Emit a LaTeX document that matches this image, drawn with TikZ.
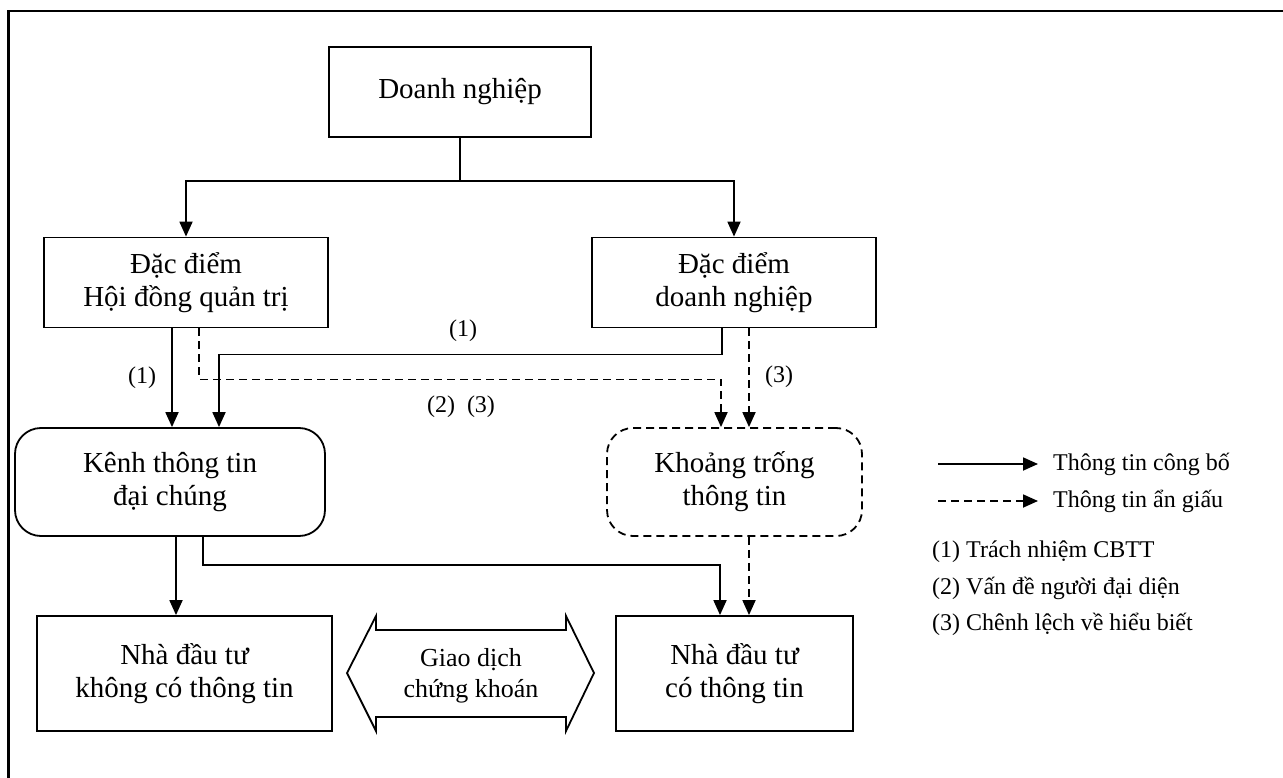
\documentclass[tikz,border=0pt]{standalone}
\usepackage{fontspec}
\setmainfont{Liberation Serif}
\usetikzlibrary{arrows.meta}
\begin{document}
\begin{tikzpicture}[x=1pt,y=-1pt,
  box/.style={draw,line width=1.8pt,rectangle,inner sep=0pt,align=center,font=\fontsize{29}{33}\selectfont},
  rbox/.style={box,rounded corners=26pt},
  dbox/.style={box,rounded corners=26pt,dash pattern=on 8pt off 5pt},
  con/.style={line width=1.8pt},
  arr/.style={con,-{Triangle[length=15pt,width=13pt]}},
  dsh/.style={con,dash pattern=on 8pt off 5pt},
  darr/.style={arr,dash pattern=on 8pt off 5pt},
  lbl/.style={font=\fontsize{24}{28}\selectfont,inner sep=0pt},
  leg/.style={font=\fontsize{24}{28}\selectfont,inner sep=0pt,anchor=west}]
\useasboundingbox (0,0) rectangle (1283,778);
\draw[line width=2.8pt] (8.5,778) -- (8.5,11) -- (1283,11);

\node[box,minimum width=262pt,minimum height=90pt] (dn) at (460,92) {Doanh nghiệp};
\node[box,minimum width=284pt,minimum height=90pt] (hdqt) at (186,282.5) {Đặc điểm\\Hội đồng quản trị};
\node[box,minimum width=284pt,minimum height=90pt] (dndn) at (734,282.5) {Đặc điểm\\doanh nghiệp};
\node[rbox,minimum width=310pt,minimum height=108pt] (kenh) at (170,482) {Kênh thông tin\\đại chúng};
\node[dbox,minimum width=255pt,minimum height=108pt] (kt) at (734.5,482) {Khoảng trống\\thông tin};
\node[box,minimum width=295pt,minimum height=115pt] (ndt1) at (184.5,673.5) {Nhà đầu tư\\không có thông tin};
\node[box,minimum width=237pt,minimum height=115pt] (ndt2) at (734.5,673.5) {Nhà đầu tư\\có thông tin};

\draw[con] (347,673) -- (376,616) -- (376,630) -- (566,630) -- (566,616) -- (594,673)
  -- (566,731) -- (566,717) -- (376,717) -- (376,731) -- cycle;
\node[align=center,inner sep=0pt,font=\fontsize{26}{31}\selectfont] (gd) at (471,676) {Giao dịch\\chứng khoán};

\draw[arr] (dn.south) -- ++(0,43) -| (hdqt.north);
\draw[arr] (dn.south) -- ++(0,43) -| (dndn.north);

\draw[arr] ([xshift=-14pt]hdqt.south) -- ([xshift=2pt]kenh.north);
\draw[arr] ([xshift=-12pt]dndn.south) -- ++(0,26) -| ([xshift=49pt]kenh.north);
\draw[darr] ([xshift=13pt]hdqt.south) -- ++(0,51) -| ([xshift=-13.5pt]kt.north);
\draw[darr] ([xshift=15pt]dndn.south) -- ([xshift=14.5pt]kt.north);

\draw[arr] ([xshift=6pt]kenh.south) -- ([xshift=-8.5pt]ndt1.north);
\draw[arr] ([xshift=33pt]kenh.south) -- ++(0,28) -| ([xshift=-14.5pt]ndt2.north);
\draw[darr] ([xshift=14.5pt]kt.south) -- ([xshift=14.5pt]ndt2.north);

\node[lbl] (l1) at (142,378) {(1)};
\node[lbl] (l2) at (463,331) {(1)};
\node[lbl] (l3) at (461,407) {(2)\ \ (3)};
\node[lbl] (l4) at (779,377) {(3)};

\coordinate (sa) at (938,464);
\coordinate (sb) at (1038,464);
\coordinate (da) at (938,501);
\coordinate (db) at (1038,501);
\draw[arr] (sa) -- (sb);
\draw[darr] (da) -- (db);
\node[leg] (t1) at (1053,464) {Thông tin công bố};
\node[leg] (t2) at (1053,501) {Thông tin ẩn giấu};
\node[leg] (n1) at (932,552) {(1) Trách nhiệm CBTT};
\node[leg] (n2) at (932,588) {(2) Vấn đề người đại diện};
\node[leg] (n3) at (932,624) {(3) Chênh lệch về hiểu biết};
\end{tikzpicture}
\end{document}
